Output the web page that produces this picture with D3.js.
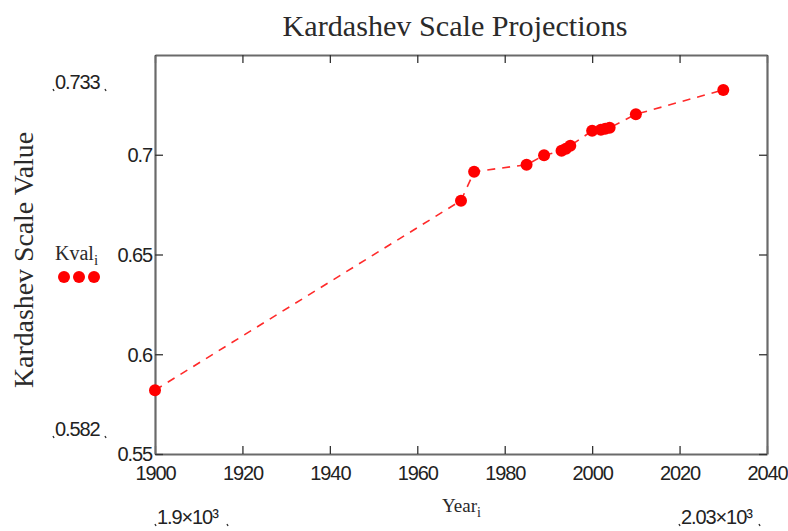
<!DOCTYPE html>
<html>
<head>
<meta charset="utf-8">
<script src="https://cdn.jsdelivr.net/npm/d3@7"></script>
<style>
  body { margin: 0; background: #fff; }
  svg { display: block; }
  .tick text { font-family: "Liberation Sans", Arial, sans-serif; font-size: 20px; letter-spacing: -1.1px; fill: #222; }
  .serif { font-family: "Liberation Serif", "Times New Roman", serif; fill: #2a2a2a; }
  .sans { font-family: "Liberation Sans", Arial, sans-serif; fill: #222; letter-spacing: -1.1px; }
</style>
</head>
<body>
<div id="chart"></div>
<script>
// data
const years = [1900, 1970, 1973, 1985, 1989, 1993, 1994, 1995, 2000, 2002, 2003, 2004, 2010, 2030];
const kvals = [0.582, 0.677, 0.6915, 0.695, 0.6997, 0.702, 0.703, 0.7045, 0.712, 0.7125, 0.713, 0.7135, 0.7203, 0.7325];
const xTicks = [1900, 1920, 1940, 1960, 1980, 2000, 2020, 2040];
const yTicks = [0.55, 0.6, 0.65, 0.7];
const xDomain = [1900, 2040];
const yDomain = [0.55, 0.75];

const W = 788, H = 531;
const margin = { top: 55, right: 21, bottom: 77, left: 155 };

const svg = d3.select('#chart')
  .append('svg')
  .attr('width', W)
  .attr('height', H);

const x = d3.scaleLinear()
  .domain(xDomain)
  .range([margin.left, W - margin.right]);
const y = d3.scaleLinear()
  .domain(yDomain)
  .range([H - margin.bottom, margin.top]);

const axisColor = '#6a6a6a';

// mirrored inward ticks on all four sides
const axBottom = svg.append('g')
  .attr('transform', `translate(0,${y(yDomain[0])})`)
  .call(d3.axisBottom(x).tickValues(xTicks).tickFormat(d3.format('d'))
    .tickSizeInner(-8).tickSizeOuter(0).tickPadding(12));
const axTop = svg.append('g')
  .attr('transform', `translate(0,${y(yDomain[1])})`)
  .call(d3.axisTop(x).tickValues(xTicks).tickFormat('')
    .tickSizeInner(-8).tickSizeOuter(0));
const axLeft = svg.append('g')
  .attr('transform', `translate(${x(xDomain[0])},0)`)
  .call(d3.axisLeft(y).tickValues(yTicks).tickFormat(d => String(d))
    .tickSizeInner(-8).tickSizeOuter(0).tickPadding(3));
const axRight = svg.append('g')
  .attr('transform', `translate(${x(xDomain[1])},0)`)
  .call(d3.axisRight(y).tickValues(yTicks).tickFormat('')
    .tickSizeInner(-8).tickSizeOuter(0));

[axBottom, axTop, axLeft, axRight].forEach(g => {
  g.select('.domain').attr('stroke', axisColor).attr('stroke-width', 2.2);
  g.selectAll('.tick line').attr('stroke', '#333').attr('stroke-width', 1.3);
});
axLeft.selectAll('.tick text').attr('dy', '0.34em');

// data line and points
const line = d3.line()
  .x((d, i) => x(years[i]))
  .y(d => y(d));

svg.append('path')
  .datum(kvals)
  .attr('fill', 'none')
  .attr('stroke', '#ff2a2a')
  .attr('stroke-width', 1.6)
  .attr('stroke-dasharray', '8,7')
  .attr('d', line);

svg.append('g')
  .selectAll('circle')
  .data(kvals)
  .join('circle')
  .attr('cx', (d, i) => x(years[i]))
  .attr('cy', d => y(d))
  .attr('r', 6)
  .attr('fill', '#f00');

// title and axis labels
svg.append('text')
  .attr('class', 'serif')
  .attr('x', 455).attr('y', 36)
  .attr('text-anchor', 'middle')
  .attr('font-size', 29)
  .attr('textLength', 345)
  .attr('lengthAdjust', 'spacingAndGlyphs')
  .text('Kardashev Scale Projections');

svg.append('text')
  .attr('class', 'serif')
  .attr('transform', 'translate(33,260) rotate(-90)')
  .attr('text-anchor', 'middle')
  .attr('font-size', 28)
  .attr('textLength', 256)
  .attr('lengthAdjust', 'spacingAndGlyphs')
  .text('Kardashev Scale Value');

const kval = svg.append('text')
  .attr('class', 'serif')
  .attr('x', 55).attr('y', 260)
  .attr('font-size', 20);
kval.append('tspan').text('Kval');
kval.append('tspan').attr('font-size', 15).attr('dy', 5).text('i');

svg.append('g')
  .selectAll('circle')
  .data([64, 79, 94])
  .join('circle')
  .attr('cx', d => d)
  .attr('cy', 277)
  .attr('r', 6)
  .attr('fill', '#f00');

const yearLab = svg.append('text')
  .attr('class', 'serif')
  .attr('x', 442).attr('y', 512)
  .attr('font-size', 19);
yearLab.append('tspan').text('Year');
yearLab.append('tspan').attr('font-size', 14).attr('dy', 5).text('i');

// range annotations with corner marks
const notes = [
  { txt: '0.733', x: 55, y: 89, w: 49 },
  { txt: '0.582', x: 55, y: 436, w: 49 },
  { txt: '1.9×10³', x: 157, y: 524, w: 69 },
  { txt: '2.03×10³', x: 681, y: 524, w: 77 }
];
const ng = svg.append('g');
notes.forEach(n => {
  ng.append('text')
    .attr('class', 'sans')
    .attr('x', n.x).attr('y', n.y)
    .attr('font-size', 20)
    .text(n.txt);
  [n.x - 2, n.x + n.w + 1].forEach(cx => {
    ng.append('path')
      .attr('d', `M${cx},${n.y} l1,2`)
      .attr('stroke', '#333')
      .attr('stroke-width', 1.4);
  });
});
</script>
</body>
</html>
